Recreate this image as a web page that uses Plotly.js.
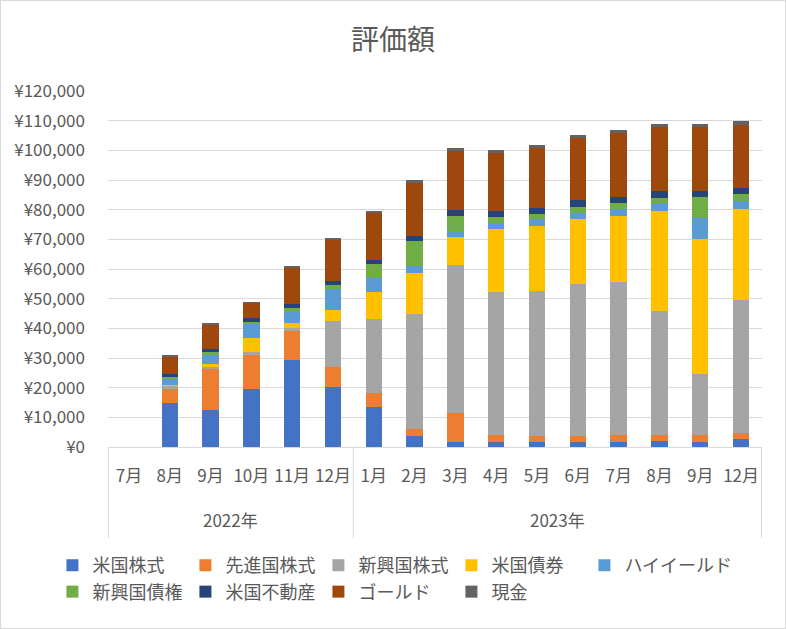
<!DOCTYPE html>
<html>
<head>
<meta charset="utf-8">
<script src="https://cdn.plot.ly/plotly-3.0.1.min.js"></script>
<style>
  html, body { margin: 0; padding: 0; background: #fff; }
  #wrap { position: relative; width: 786px; height: 629px; }
  #chart { width: 786px; height: 629px; }
  #frame {
    position: absolute; left: 0; top: 0; width: 786px; height: 629px;
    box-sizing: border-box; border: 1px solid #d9d9d9; pointer-events: none;
  }
  /* fixed-width legend entries: let the last column's text run past the box */
  #chart .legend .scrollbox { clip-path: none !important; }
</style>
</head>
<body>
<div id="wrap">
  <div id="chart"></div>
  <div id="frame"></div>
</div>
<script>
// categories (two levels: year / month)
const years = ['2022年', '2022年', '2022年', '2022年', '2022年', '2022年',
  '2023年', '2023年', '2023年', '2023年', '2023年', '2023年', '2023年', '2023年', '2023年', '2023年'];
const months = ['7月', '8月', '9月', '10月', '11月', '12月',
  '1月', '2月', '3月', '4月', '5月', '6月', '7月', '8月', '9月', '12月'];

// values in yen
const usStock   = [0, 15000, 12500, 19600, 29400, 20200, 13500, 3700, 1700, 1700, 1700, 1700, 1700, 2000, 1700, 2700];
const devStock  = [0, 4700, 13800, 11400, 9700, 6800, 4700, 2400, 9800, 2300, 2000, 2000, 2300, 2000, 2300, 2000];
const emStock   = [0, 700, 700, 1100, 1100, 15500, 24900, 38700, 49800, 48200, 48900, 51200, 51600, 41800, 20600, 44900];
const usBond    = [0, 500, 1100, 4700, 1600, 3800, 9100, 13900, 9500, 21300, 21900, 22000, 22300, 33800, 45500, 30600];
const highYield = [0, 2000, 2900, 4700, 3800, 7000, 4800, 2400, 2000, 2000, 2000, 2000, 2300, 2300, 7200, 2700];
const emBond    = [0, 600, 1000, 700, 1400, 1300, 4700, 8300, 5100, 2000, 2000, 2000, 2000, 2100, 7000, 2400];
const usReit    = [0, 1000, 1100, 1400, 1300, 1400, 1300, 1700, 2000, 2100, 2100, 2400, 2100, 2300, 2000, 2000];
const gold      = [0, 6000, 8000, 4900, 12100, 13900, 15900, 17900, 19900, 19500, 20200, 20900, 21500, 21600, 21600, 21200];
const cash      = [0, 400, 700, 500, 700, 700, 700, 1000, 1000, 1000, 1000, 1000, 1100, 1000, 1000, 1400];

const seriesNames = ['米国株式', '先進国株式', '新興国株式', '米国債券', 'ハイイールド',
  '新興国債権', '米国不動産', 'ゴールド', '現金'];
const seriesValues = [usStock, devStock, emStock, usBond, highYield, emBond, usReit, gold, cash];
const seriesColors = ['#4472c4', '#ed7d31', '#a5a5a5', '#ffc000', '#5b9bd5',
  '#70ad47', '#264478', '#9e480e', '#636363'];

const textColor = '#595959';
const gridColor = '#d9d9d9';
const fontFamily = '"Noto Sans CJK JP", "Noto Sans", sans-serif';

// unique key per column, month shown as tick text
const keys = years.map((y, i) => y + months[i]);

const traces = seriesNames.map((name, i) => ({
  type: 'bar',
  name: name,
  x: keys,
  y: seriesValues[i],
  marker: { color: seriesColors[i], line: { width: 0 } }
}));

// year group labels and group dividers, derived from the years array
const groups = [];
years.forEach((y, i) => {
  const last = groups[groups.length - 1];
  if (last && last.year === y) last.end = i;
  else groups.push({ year: y, start: i, end: i });
});

const yearLabelY = -0.205;
const dividerBottom = -0.256;

const annotations = groups.map(g => ({
  text: g.year,
  xref: 'x',
  x: (g.start + g.end) / 2,
  yref: 'paper',
  y: yearLabelY,
  showarrow: false,
  xanchor: 'center',
  yanchor: 'middle',
  font: { size: 17, color: textColor }
}));

const bounds = [groups[0].start - 0.5].concat(groups.map(g => g.end + 0.5));
const shapes = bounds.map(b => ({
  type: 'line',
  xref: 'x',
  x0: b,
  x1: b,
  yref: 'paper',
  y0: 0,
  y1: dividerBottom,
  line: { color: gridColor, width: 1 }
}));

const layout = {
  width: 786,
  height: 629,
  paper_bgcolor: '#ffffff',
  plot_bgcolor: '#ffffff',
  font: { family: fontFamily, color: textColor, size: 17 },
  title: {
    text: '評価額',
    font: { size: 28, color: textColor },
    x: 0.5,
    xanchor: 'center',
    y: 0.936,
    yanchor: 'middle'
  },
  margin: { l: 108, r: 24, t: 91, b: 182, autoexpand: false },
  barmode: 'stack',
  bargap: 0.6,
  showlegend: true,
  legend: {
    orientation: 'h',
    traceorder: 'normal',
    x: -0.085,
    xanchor: 'left',
    y: -0.281,
    yanchor: 'top',
    entrywidth: 88,
    entrywidthmode: 'pixels',
    bgcolor: 'rgba(0,0,0,0)',
    font: { size: 18, color: textColor }
  },
  annotations: annotations,
  shapes: shapes,
  xaxis: {
    type: 'category',
    tickvals: keys,
    ticktext: months,
    tickangle: 0,
    showline: true,
    linecolor: gridColor,
    linewidth: 1,
    showgrid: false,
    ticks: '',
    ticklabelstandoff: 14,
    tickfont: { size: 17, color: textColor }
  },
  yaxis: {
    range: [0, 120000],
    dtick: 10000,
    tickprefix: '¥',
    tickformat: ',d',
    showgrid: true,
    gridcolor: gridColor,
    gridwidth: 1,
    zeroline: false,
    showline: false,
    ticks: '',
    ticklabelstandoff: 22,
    tickfont: { size: 17, color: textColor }
  }
};

const config = { staticPlot: true, displaylogo: false, responsive: false };

Plotly.newPlot('chart', traces, layout, config);
</script>
</body>
</html>
